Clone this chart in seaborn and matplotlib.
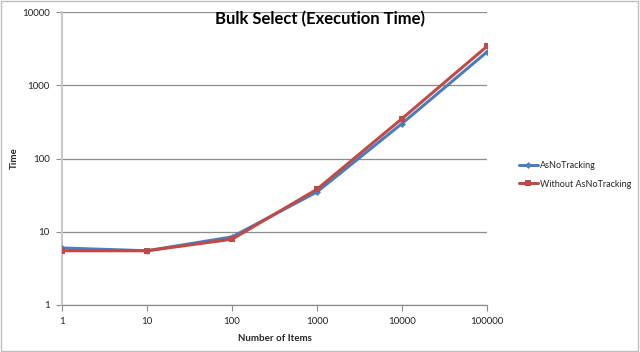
import numpy as np
import pandas as pd
import seaborn as sns
import matplotlib.pyplot as plt
from matplotlib.patches import Rectangle

items = [1, 10, 100, 1000, 10000, 100000]
as_no_tracking = [6.0, 5.5, 8.5, 35, 300, 2850]
without_as_no_tracking = [5.5, 5.5, 7.9, 38, 350, 3400]
series_names = ["AsNoTracking", "Without AsNoTracking"]
x_ticks = [1, 10, 100, 1000, 10000, 100000]
y_ticks = [1, 10, 100, 1000, 10000]

df = pd.DataFrame({
    "Number of Items": items * 2,
    "Time": as_no_tracking + without_as_no_tracking,
    "Series": [series_names[0]] * len(items) + [series_names[1]] * len(items),
})

sns.set_style("white")
plt.rcParams["font.family"] = ["Lato", "DejaVu Sans"]

fig = plt.figure(figsize=(6.4, 3.52), dpi=100)
ax = fig.add_axes([62 / 640, 1 - 305 / 352, (487 - 62) / 640, (305 - 12) / 352])

palette = {series_names[0]: "#4A7EBB", series_names[1]: "#BE4B48"}
markers = {series_names[0]: "D", series_names[1]: "s"}
sns.lineplot(data=df, x="Number of Items", y="Time", hue="Series", style="Series",
             palette=palette, markers=markers, dashes=False, linewidth=2.2,
             markersize=5, markeredgewidth=0, ax=ax, zorder=3)
for line in ax.get_lines():
    if line.get_marker() == "D":
        line.set_markersize(3.5)

ax.set_xscale("log")
ax.set_yscale("log")
ax.set_xlim(1, 100000)
ax.set_ylim(1, 10000)
ax.set_xticks(x_ticks)
ax.set_xticklabels([str(t) for t in x_ticks])
ax.set_yticks(y_ticks)
ax.set_yticklabels([str(t) for t in y_ticks])
ax.minorticks_off()
ax.yaxis.grid(True, color="#8C8C8C", linewidth=0.9)
ax.xaxis.grid(False)
ax.set_axisbelow(True)

for s in ["top", "right"]:
    ax.spines[s].set_visible(False)
ax.spines["left"].set_color("#C8C8C8")
ax.spines["left"].set_linewidth(1.5)
ax.spines["bottom"].set_color("#8C8C8C")
ax.spines["bottom"].set_linewidth(0.9)
ax.tick_params(axis="both", which="major", length=4, width=0.8, color="#8C8C8C",
               labelsize=7, labelcolor="#222222", direction="out", pad=5,
               bottom=True, left=True)

ax.set_xlabel("Number of Items", fontsize=7, fontweight="bold")
ax.xaxis.set_label_coords(0.5, -(334 - 305) / 293)
ax.set_ylabel("Time", fontsize=7, fontweight="bold")
ax.yaxis.set_label_coords(-(62 - 19) / 425, 0.5)

fig.text(0.5, 1 - 19 / 352, "Bulk Select (Execution Time)", ha="center", va="center",
         fontsize=12, fontweight="bold", color="#000000")

handles, labels = ax.get_legend_handles_labels()
ax.legend(handles, labels, loc="center left", bbox_to_anchor=(1.055, (305 - 175) / 293),
          frameon=False, fontsize=6.5, handlelength=2.2, handletextpad=0.2,
          labelspacing=1.0)

fig.patches.append(Rectangle((0.002, 0.003), 0.995, 0.994, transform=fig.transFigure,
                             fill=False, edgecolor="#BFBFBF", linewidth=1.0))

fig.savefig("out.png", dpi=100, facecolor="white")
